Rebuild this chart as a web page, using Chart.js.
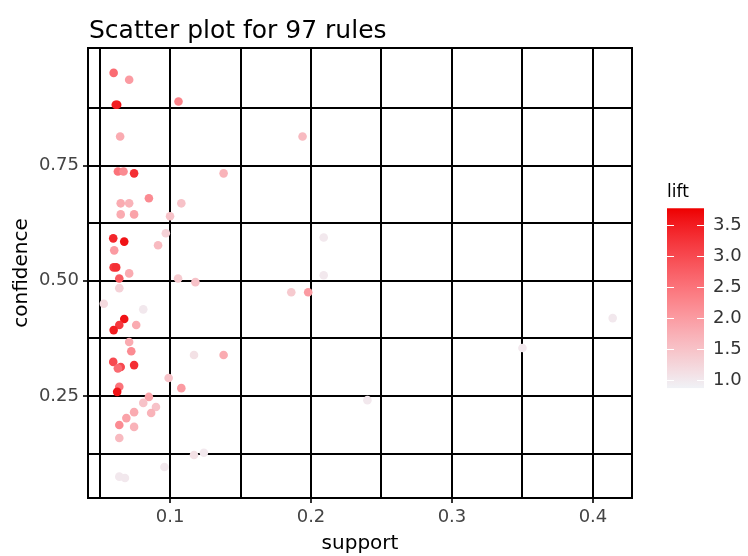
<!DOCTYPE html>
<html>
<head>
<meta charset="utf-8">
<script src="https://cdn.jsdelivr.net/npm/chart.js@4"></script>
<style>
  html, body { margin: 0; padding: 0; background: #fff; }
</style>
</head>
<body>
<canvas id="chart" width="748" height="556"></canvas>
<script>
// rules: support, confidence, lift
const support = [
  0.060, 0.071, 0.0625, 0.0615, 0.106, 0.0646, 0.063, 0.067, 0.0745, 0.138,
  0.085, 0.065, 0.071, 0.108, 0.065, 0.0745, 0.100, 0.097, 0.0597, 0.0675,
  0.0604, 0.0915, 0.060, 0.0618, 0.071, 0.064, 0.1057, 0.118, 0.064, 0.053,
  0.081, 0.0675, 0.064, 0.060, 0.076, 0.071, 0.0725, 0.0597, 0.065, 0.0745,
  0.063, 0.117, 0.138, 0.099, 0.108, 0.064, 0.0625, 0.085, 0.081, 0.090,
  0.0745, 0.0866, 0.069, 0.064, 0.0745, 0.064, 0.117, 0.124, 0.096, 0.064,
  0.068, 0.194, 0.209, 0.209, 0.198, 0.186, 0.35, 0.24, 0.414
];
const confidence = [
  0.951, 0.936, 0.882, 0.882, 0.889, 0.813, 0.737, 0.737, 0.733, 0.733,
  0.679, 0.668, 0.668, 0.668, 0.644, 0.644, 0.640, 0.603, 0.592, 0.585,
  0.566, 0.577, 0.529, 0.529, 0.516, 0.505, 0.505, 0.497, 0.484, 0.450,
  0.438, 0.417, 0.404, 0.393, 0.404, 0.367, 0.347, 0.324, 0.313, 0.317,
  0.310, 0.339, 0.339, 0.289, 0.267, 0.270, 0.259, 0.248, 0.235, 0.226,
  0.215, 0.213, 0.202, 0.187, 0.183, 0.159, 0.122, 0.127, 0.096, 0.075,
  0.072, 0.813, 0.594, 0.512, 0.475, 0.475, 0.354, 0.241, 0.419
];
const lift = [
  2.6, 2.0, 3.6, 3.5, 2.3, 1.8, 2.5, 2.2, 3.3, 1.7,
  2.2, 1.8, 1.7, 1.5, 1.8, 1.9, 1.5, 1.3, 3.4, 3.6,
  2.0, 1.6, 3.2, 3.3, 1.8, 2.8, 1.4, 1.5, 1.3, 1.2,
  1.0, 3.6, 3.2, 3.5, 1.8, 1.8, 2.2, 3.0, 3.0, 3.3,
  2.6, 1.1, 1.8, 1.5, 2.0, 2.5, 3.6, 1.9, 1.5, 1.5,
  1.8, 1.7, 1.9, 2.2, 1.7, 1.6, 1.1, 1.0, 1.0, 1.0,
  1.0, 1.6, 1.0, 1.0, 2.0, 1.4, 1.0, 1.0, 1.0
];

const xGrid = [0.05, 0.1, 0.15, 0.2, 0.25, 0.3, 0.35, 0.4];
const xLabels = [0.1, 0.2, 0.3, 0.4];
const yGrid = [0.125, 0.25, 0.375, 0.5, 0.625, 0.75, 0.875];
const yLabels = [0.25, 0.5, 0.75];
const liftTicks = [1.0, 1.5, 2.0, 2.5, 3.0, 3.5];
const liftLow = 0.87, liftHigh = 3.77;

const font = '"DejaVu Sans", sans-serif';

// light grey-white for low lift, red for high lift
function liftColor(v) {
  let t = (v - liftLow) / (liftHigh - liftLow);
  t = Math.max(0, Math.min(1, t));
  const r = Math.round(240 + (238 - 240) * t + 12 * Math.sin(Math.PI * t));
  const g = Math.round(242 * Math.pow(1 - t, 0.9));
  const b = Math.round(246 * Math.pow(1 - t, 0.85));
  return `rgb(${Math.min(r, 255)},${g},${b})`;
}

const extras = {
  id: "extras",
  afterDraw(chart) {
    const ctx = chart.ctx;
    const a = chart.chartArea;
    ctx.save();
    // top and right frame
    ctx.strokeStyle = "#000";
    ctx.lineWidth = 2;
    ctx.beginPath();
    ctx.moveTo(a.left, a.top);
    ctx.lineTo(a.right, a.top);
    ctx.lineTo(a.right, a.bottom);
    ctx.stroke();

    // title
    ctx.fillStyle = "#000";
    ctx.font = "25px " + font;
    ctx.textAlign = "left";
    ctx.textBaseline = "alphabetic";
    ctx.fillText("Scatter plot for 97 rules", 89, 38);

    // colour bar
    const yOf = v => 380 - (v - 1) * 62;
    const bx = 667, bw = 37;
    const top = yOf(liftHigh), bottom = yOf(liftLow);
    const grad = ctx.createLinearGradient(0, bottom, 0, top);
    for (let i = 0; i <= 20; i++) {
      grad.addColorStop(i / 20, liftColor(liftLow + (liftHigh - liftLow) * i / 20));
    }
    ctx.fillStyle = grad;
    ctx.fillRect(bx, top, bw, bottom - top);

    ctx.fillStyle = "#000";
    ctx.font = "17px " + font;
    ctx.fillText("lift", bx, 197);

    ctx.strokeStyle = "#fff";
    ctx.lineWidth = 1;
    ctx.fillStyle = "#333";
    ctx.font = "18px " + font;
    ctx.textBaseline = "middle";
    liftTicks.forEach(v => {
      const y = Math.round(yOf(v)) + 0.5;
      ctx.beginPath();
      ctx.moveTo(bx, y); ctx.lineTo(bx + 7, y);
      ctx.moveTo(bx + bw - 7, y); ctx.lineTo(bx + bw, y);
      ctx.stroke();
      ctx.fillText(v.toFixed(1), 713, yOf(v));
    });
    ctx.restore();
  }
};

const data = {
  datasets: [{
    label: "rules",
    data: support.map((s, i) => ({ x: s, y: confidence[i] })),
    backgroundColor: lift.map(liftColor),
    borderWidth: 0,
    pointRadius: 4.3,
    pointHoverRadius: 4.3
  }]
};

const config = {
  type: "scatter",
  data: data,
  plugins: [extras],
  options: {
    responsive: false,
    animation: false,
    layout: { padding: { top: 48, right: 116, bottom: 0, left: 0 } },
    plugins: { legend: { display: false }, tooltip: { enabled: false } },
    scales: {
      x: {
        type: "linear",
        min: 0.0418,
        max: 0.4277,
        afterBuildTicks: s => { s.ticks = xGrid.map(v => ({ value: v })); },
        afterFit: s => { s.height = 58; },
        grid: {
          color: "#000",
          lineWidth: 2,
          tickLength: 5,
          tickColor: c => (c.tick && xLabels.includes(c.tick.value)) ? "#333" : "rgba(0,0,0,0)"
        },
        border: { display: true, color: "#000", width: 2 },
        ticks: {
          autoSkip: false,
          maxRotation: 0,
          padding: 4,
          color: "#444",
          font: { family: font, size: 18 },
          callback: v => xLabels.includes(v) ? String(v) : ""
        },
        title: {
          display: true,
          text: "support",
          color: "#000",
          font: { family: font, size: 20 },
          padding: { top: 0, bottom: 0 }
        }
      },
      y: {
        type: "linear",
        min: 0.0287,
        max: 1.005,
        afterBuildTicks: s => { s.ticks = yGrid.map(v => ({ value: v })); },
        afterFit: s => { s.width = 88; },
        grid: {
          color: "#000",
          lineWidth: 2,
          tickLength: 5,
          tickColor: c => (c.tick && yLabels.includes(c.tick.value)) ? "#333" : "rgba(0,0,0,0)"
        },
        border: { display: true, color: "#000", width: 2 },
        ticks: {
          autoSkip: false,
          padding: 4,
          color: "#444",
          font: { family: font, size: 18 },
          callback: v => yLabels.includes(v) ? v.toFixed(2) : ""
        },
        title: {
          display: true,
          text: "confidence",
          color: "#000",
          font: { family: font, size: 20 },
          padding: { top: 10, bottom: 0 }
        }
      }
    }
  }
};

const chart = new Chart(document.getElementById("chart"), config);
</script>
</body>
</html>
